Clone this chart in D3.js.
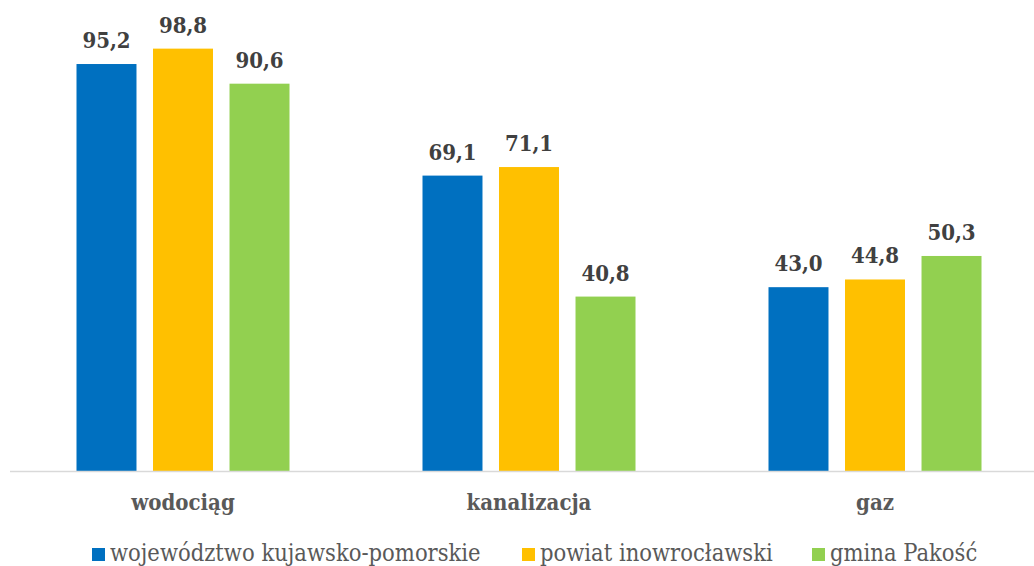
<!DOCTYPE html>
<html>
<head>
<meta charset="utf-8">
<script src="https://cdn.jsdelivr.net/npm/d3@7"></script>
<style>
  body { margin: 0; background: #fff; }
  text { font-family: "DejaVu Serif Condensed", "DejaVu Serif", serif; font-stretch: condensed; }
</style>
</head>
<body>
<div id="chart"></div>
<script>
const categories = ['wodociąg', 'kanalizacja', 'gaz'];
const seriesNames = ['województwo kujawsko-pomorskie', 'powiat inowrocławski', 'gmina Pakość'];
const seriesColors = ['#0070C0', '#FFC000', '#92D050'];
const wojewodztwo = [95.2, 69.1, 43.0];
const powiat = [98.8, 71.1, 44.8];
const gmina = [90.6, 40.8, 50.3];
const series = [wojewodztwo, powiat, gmina];

const width = 1034, height = 566;
const baseline = 471;
const groupW = 213;

const svg = d3.select('#chart').append('svg')
  .attr('width', width)
  .attr('height', height);

// plot area runs a little past the right edge, as in the original
const x0 = d3.scaleBand().domain(categories).range([10, 1048]);
const x1 = d3.scaleBand().domain(d3.range(series.length))
  .range([0, groupW]).paddingInner(0.216);
const y = d3.scaleLinear().domain([0, 100]).range([baseline, baseline - 427.5]);

const groups = svg.selectAll('.grp')
  .data(categories)
  .enter().append('g')
  .attr('class', 'grp')
  .attr('transform', d => `translate(${x0(d) + (x0.bandwidth() - groupW) / 2},0)`);

groups.selectAll('rect')
  .data((d, i) => series.map((s, j) => ({ j, v: s[i] })))
  .enter().append('rect')
  .attr('x', d => x1(d.j))
  .attr('y', d => y(d.v))
  .attr('width', x1.bandwidth())
  .attr('height', d => baseline - y(d.v))
  .attr('fill', d => seriesColors[d.j]);

groups.selectAll('.val')
  .data((d, i) => series.map((s, j) => ({ j, v: s[i] })))
  .enter().append('text')
  .attr('class', 'val')
  .attr('x', d => x1(d.j) + x1.bandwidth() / 2)
  .attr('y', d => y(d.v) - 16)
  .attr('text-anchor', 'middle')
  .attr('font-size', 22)
  .attr('font-weight', 'bold')
  .attr('fill', '#404040')
  .text(d => d3.format('.1f')(d.v).replace('.', ','));

// axis line
svg.append('line')
  .attr('x1', 10).attr('x2', width)
  .attr('y1', baseline + 0.5).attr('y2', baseline + 0.5)
  .attr('stroke', '#d9d9d9')
  .attr('stroke-width', 1.5);

const xAxis = d3.axisBottom(x0).tickSize(0).tickPadding(23);
const ax = svg.append('g')
  .attr('transform', `translate(0,${baseline})`)
  .call(xAxis);
ax.select('.domain').remove();
ax.selectAll('text')
  .attr('font-family', '"DejaVu Serif Condensed", "DejaVu Serif", serif')
  .attr('font-size', 22)
  .attr('font-weight', 'bold')
  .attr('fill', '#595959');

// legend
const legendX = [92, 522, 812];
const legend = svg.selectAll('.leg')
  .data(seriesNames)
  .enter().append('g')
  .attr('class', 'leg')
  .attr('transform', (d, i) => `translate(${legendX[i]},548)`);
legend.append('rect')
  .attr('width', 13).attr('height', 13)
  .attr('fill', (d, i) => seriesColors[i]);
legend.append('text')
  .attr('x', 18).attr('y', 13)
  .attr('font-size', 23.5)
  .attr('fill', '#595959')
  .text(d => d);
</script>
</body>
</html>
